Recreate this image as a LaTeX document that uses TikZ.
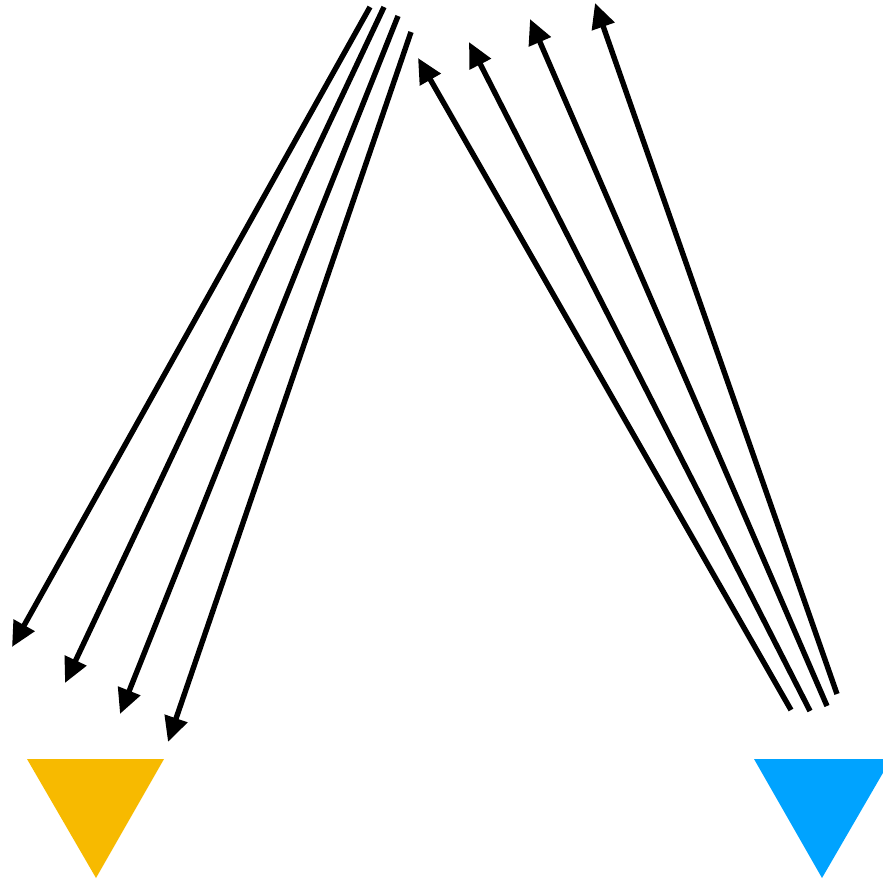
\documentclass[tikz,border=0pt]{standalone}
\usetikzlibrary{arrows.meta}
\definecolor{raysGold}{HTML}{F7BA00}
\definecolor{raysSky}{HTML}{00A3FF}
\definecolor{raysInk}{HTML}{000000}

\begin{document}
\begin{tikzpicture}[x=1pt,y=-1pt,>={Triangle[length=25pt,width=23pt]},line join=miter]
\path[fill=white,use as bounding box] (0,0) rectangle (883,882);
\tikzset{ray/.style={draw=raysInk,line width=5.4pt},marker/.style={draw=none}}
% outgoing rays, top to left receiver
\coordinate (outA) at (370,7); \coordinate (outB) at (384,7); \coordinate (outC) at (398,16); \coordinate (outD) at (411,32);
\coordinate (hitA) at (12,647); \coordinate (hitB) at (65,683); \coordinate (hitC) at (120,714); \coordinate (hitD) at (168,742);
\draw[ray,->] (outA) -- (hitA); \draw[ray,->] (outB) -- (hitB);
\draw[ray,->] (outC) -- (hitC); \draw[ray,->] (outD) -- (hitD);
% incoming rays, right source to top
\coordinate (srcA) at (791,710); \coordinate (srcB) at (810,711); \coordinate (srcC) at (827,706); \coordinate (srcD) at (837,694);
\coordinate (topA) at (418,58); \coordinate (topB) at (469,42); \coordinate (topC) at (530,19); \coordinate (topD) at (595,3);
\draw[ray,->] (srcA) -- (topA); \draw[ray,->] (srcB) -- (topB);
\draw[ray,->] (srcC) -- (topC); \draw[ray,->] (srcD) -- (topD);
% receiver and source markers
\path[marker,fill=raysGold] (27,759) -- (164,759) -- (96,878) -- cycle;
\path[marker,fill=raysSky] (754,759) -- (891,759) -- (822,878) -- cycle;
\end{tikzpicture}
\end{document}
